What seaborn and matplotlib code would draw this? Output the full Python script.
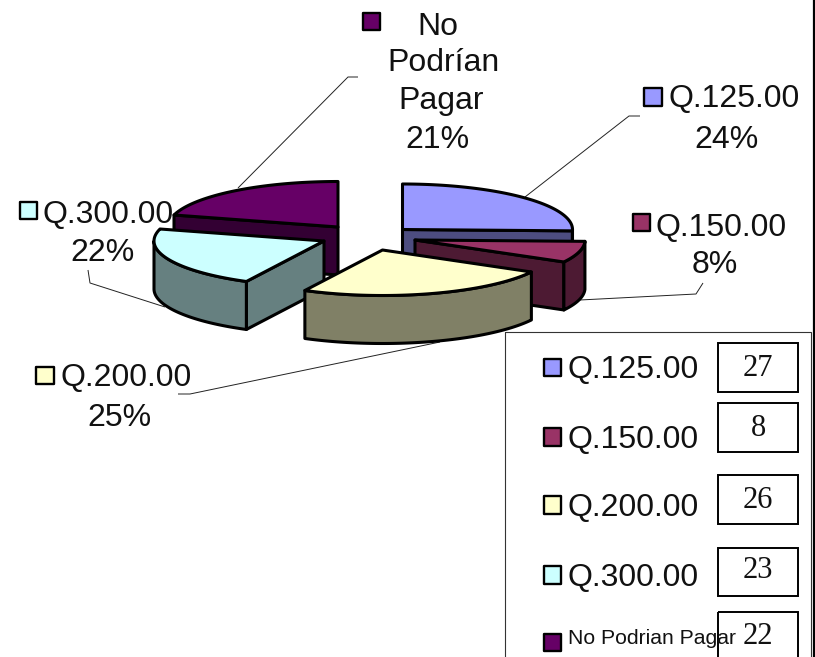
import numpy as np
import pandas as pd
import matplotlib
matplotlib.use("Agg")
import matplotlib.pyplot as plt
from matplotlib.patches import Rectangle
import seaborn as sns

# ---- data ----
categories = ["Q.125.00", "Q.150.00", "Q.200.00", "Q.300.00", "No Podrian Pagar"]
counts = [27, 8, 26, 23, 22]
percent_labels = ["24%", "8%", "25%", "22%", "21%"]
colors = ["#9999FF", "#993366", "#FFFFCC", "#CCFFFF", "#660066"]

# ---- layout (pixels) ----
W, H = 815, 657
RX, RY, DEPTH = 170, 45.5, 48
apexes = [(402.5, 229.5), (415, 240), (382.5, 250), (324, 241), (338, 227)]
draw_order = [4, 0, 1, 3, 2]
EDGE = 2.2
TEXT_DY = 3
FS = 23

sns.set_theme(style="white")
plt.rcParams["font.family"] = ["Liberation Sans", "DejaVu Sans"]
palette = sns.color_palette(colors)
sides = [tuple(c * 0.5 for c in col) for col in palette]

fig = plt.figure(figsize=(W / 100, H / 100), dpi=100)
ax = fig.add_axes([0, 0, 1, 1])


def rim(cx, cy, a0, a1, dy=0.0):
    t = np.radians(np.linspace(a0, a1, max(int(abs(a1 - a0)) + 2, 2)))
    return cx + RX * np.sin(t), cy - RY * np.cos(t) + dy


# leader lines (behind the pie)
leaders = [
    ([525, 629, 640], [197, 116, 116]),
    ([580, 696, 703], [300, 294, 283]),
    ([178, 190, 440], [394, 394, 342]),
    ([88, 90, 165], [270, 283, 307]),
    ([238, 348, 358], [188, 77, 77]),
]
for xs, ys in leaders:
    ax.plot(xs, ys, color="#222222", lw=0.7, zorder=1, solid_capstyle="butt")

# pie wedges from the counts
total = sum(counts)
edges = np.concatenate([[0], np.cumsum(counts)]) / total * 360
kw = dict(edgecolor="black", linewidth=EDGE, joinstyle="round")
for z, i in enumerate(draw_order):
    cx, cy = apexes[i]
    a0, a1 = edges[i], edges[i + 1]
    base = 2 + z * 0.1
    # radial cut faces
    for ang, vis in ((a0, np.sin(np.radians(a0)) < 0), (a1, np.sin(np.radians(a1)) > 0)):
        if vis:
            rx_, ry_ = rim(cx, cy, ang, ang)
            px = [cx, rx_[0], rx_[0], cx]
            py = [cy, ry_[0], ry_[0] + DEPTH, cy + DEPTH]
            ax.fill(px, py, facecolor=sides[i], zorder=base, **kw)
    # outer rim, front part only
    lo, hi = max(a0, 90), min(a1, 270)
    if hi > lo:
        x1, y1 = rim(cx, cy, lo, hi)
        x2, y2 = rim(cx, cy, hi, lo, DEPTH)
        ax.fill(np.r_[x1, x2], np.r_[y1, y2], facecolor=sides[i], zorder=base + 0.01, **kw)
    # top surface
    xt, yt = rim(cx, cy, a0, a1)
    ax.fill(np.r_[cx, xt], np.r_[cy, yt], facecolor=palette[i], zorder=base + 0.02, **kw)

# frame and data table
ax.add_patch(Rectangle((504.5, 331.5), 306.5, 340, fill=False, ec="#333333", lw=0.8, zorder=3))
ax.plot([814, 814], [0, H], color="black", lw=1.6, zorder=3)
box_tops = [343, 403, 475, 547.5, 611.5]
num_y = [365, 425, 497, 568, 633]
for top, n, ny in zip(box_tops, counts, num_y):
    ax.add_patch(Rectangle((718, top), 80, 48.5, fill=False, ec="black", lw=1.4, zorder=5))
    ax.text(758, ny + TEXT_DY, str(n), family="Liberation Serif", fontsize=22, color="#111111",
            ha="center", va="center", zorder=7)

leg_y = [367, 437, 505, 575]
for name, y in zip(categories[:4], leg_y):
    ax.text(567.5, y + TEXT_DY, name, fontsize=FS, color="#111111", ha="left", va="center", zorder=6)
ax.text(567.5, 636 + TEXT_DY, categories[4], fontsize=15.2, color="#111111", ha="left", va="center", zorder=6)

# data labels
label_left = [(669, 96), (655.5, 225), (60.5, 375), (42.5, 212)]
pct_pos = [(727, 137), (715, 262), (119, 415), (103, 250), (437, 137)]
for name, (x, y) in zip(categories[:4], label_left):
    ax.text(x, y + TEXT_DY, name, fontsize=FS, color="#111111", ha="left", va="center", zorder=8)
for p, (x, y) in zip(percent_labels, pct_pos):
    ax.text(x, y + TEXT_DY, p, fontsize=FS, color="#111111", ha="center", va="center", zorder=8)
for word, x, y in (("No", 438, 24), ("Podrían", 443, 60), ("Pagar", 441, 98)):
    ax.text(x, y + TEXT_DY, word, fontsize=FS, color="#111111", ha="center", va="center", zorder=8)

# colour keys through seaborn
keys = pd.DataFrame({
    "cat": categories * 2,
    "x": [552.5, 552.5, 552.5, 552.5, 552.5, 653, 641.5, 45, 28.5, 371.5],
    "y": [367.5, 437, 505, 575, 642.5, 97, 222.5, 375.5, 210.5, 21.5],
})
sns.scatterplot(data=keys, x="x", y="y", hue="cat", palette=colors, marker="s", s=150,
                edgecolor="black", linewidth=1.7, legend=False, ax=ax, zorder=9)

ax.set_xlim(0, W)
ax.set_ylim(H, 0)
ax.axis("off")
fig.savefig("out.png", dpi=100, facecolor="white")
